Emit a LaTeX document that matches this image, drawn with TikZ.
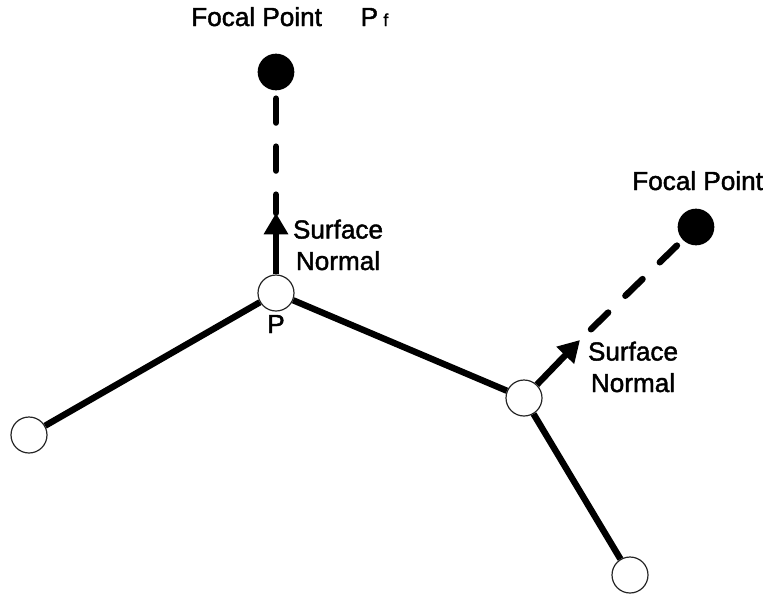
\documentclass[tikz,border=0pt]{standalone}
\usepackage{fontspec}
\setmainfont{Liberation Sans}
\newfontfamily\lblfont{Liberation Sans}[FakeBold=1.6]
\usetikzlibrary{arrows.meta}

\begin{document}
\begin{tikzpicture}[x=0.75pt,y=-0.75pt,
  vertex/.style={circle,draw=black!85,line width=0.9pt,fill=white,minimum size=27pt,inner sep=0pt},
  focal/.style={circle,fill=black,minimum size=27.5pt,inner sep=0pt},
  edge/.style={line width=4.8pt},
  normal/.style={line width=4.8pt,-{Triangle[length=16pt,width=17.5pt]}},
  ray/.style={line width=4.8pt,line cap=round,dash pattern=on 18pt off 18pt,shorten <=6pt},
  lbl/.style={inner sep=0pt,font=\lblfont\fontsize{19.6}{23.6}\selectfont},
  twoline/.style={lbl,align=center}
]
\useasboundingbox (0,0) rectangle (768,593);

% surface points and focal points
\node[vertex] (p)  at (276,293) {};
\node[vertex] (l)  at (29,435) {};
\node[vertex] (r)  at (524,398) {};
\node[vertex] (b)  at (630,575) {};
\node[focal]  (f1) at (276,72) {};
\node[focal]  (f2) at (696,227) {};

% surface normal tips
\coordinate (t1) at (276,213);
\coordinate (t2) at (580,340);

% surface polyline
\draw[edge] (l) -- (p);
\draw[edge] (p) -- (r);
\draw[edge] (r) -- (b);

% normals and rays toward the focal points
\draw[normal] (p) -- (t1);
\draw[normal] (r) -- (t2);
\draw[ray] (f1) -- (t1);
\draw[ray] (f2) -- (t2);

% labels
\node[lbl,anchor=base west] (lf1) at (191,26) {Focal Point\hspace{29pt}P\hspace{4pt}{\fontsize{13}{15}\selectfont f}};
\node[lbl,anchor=base west] (lf2) at (632,190) {Focal Point};
\node[lbl,anchor=base] (lp) at (276,333) {P};
\node[twoline,anchor=base] (ln1) at (338,270) {Surface\\Normal};
\node[twoline,anchor=base] (ln2) at (633,392) {Surface\\Normal};
\end{tikzpicture}
\end{document}
